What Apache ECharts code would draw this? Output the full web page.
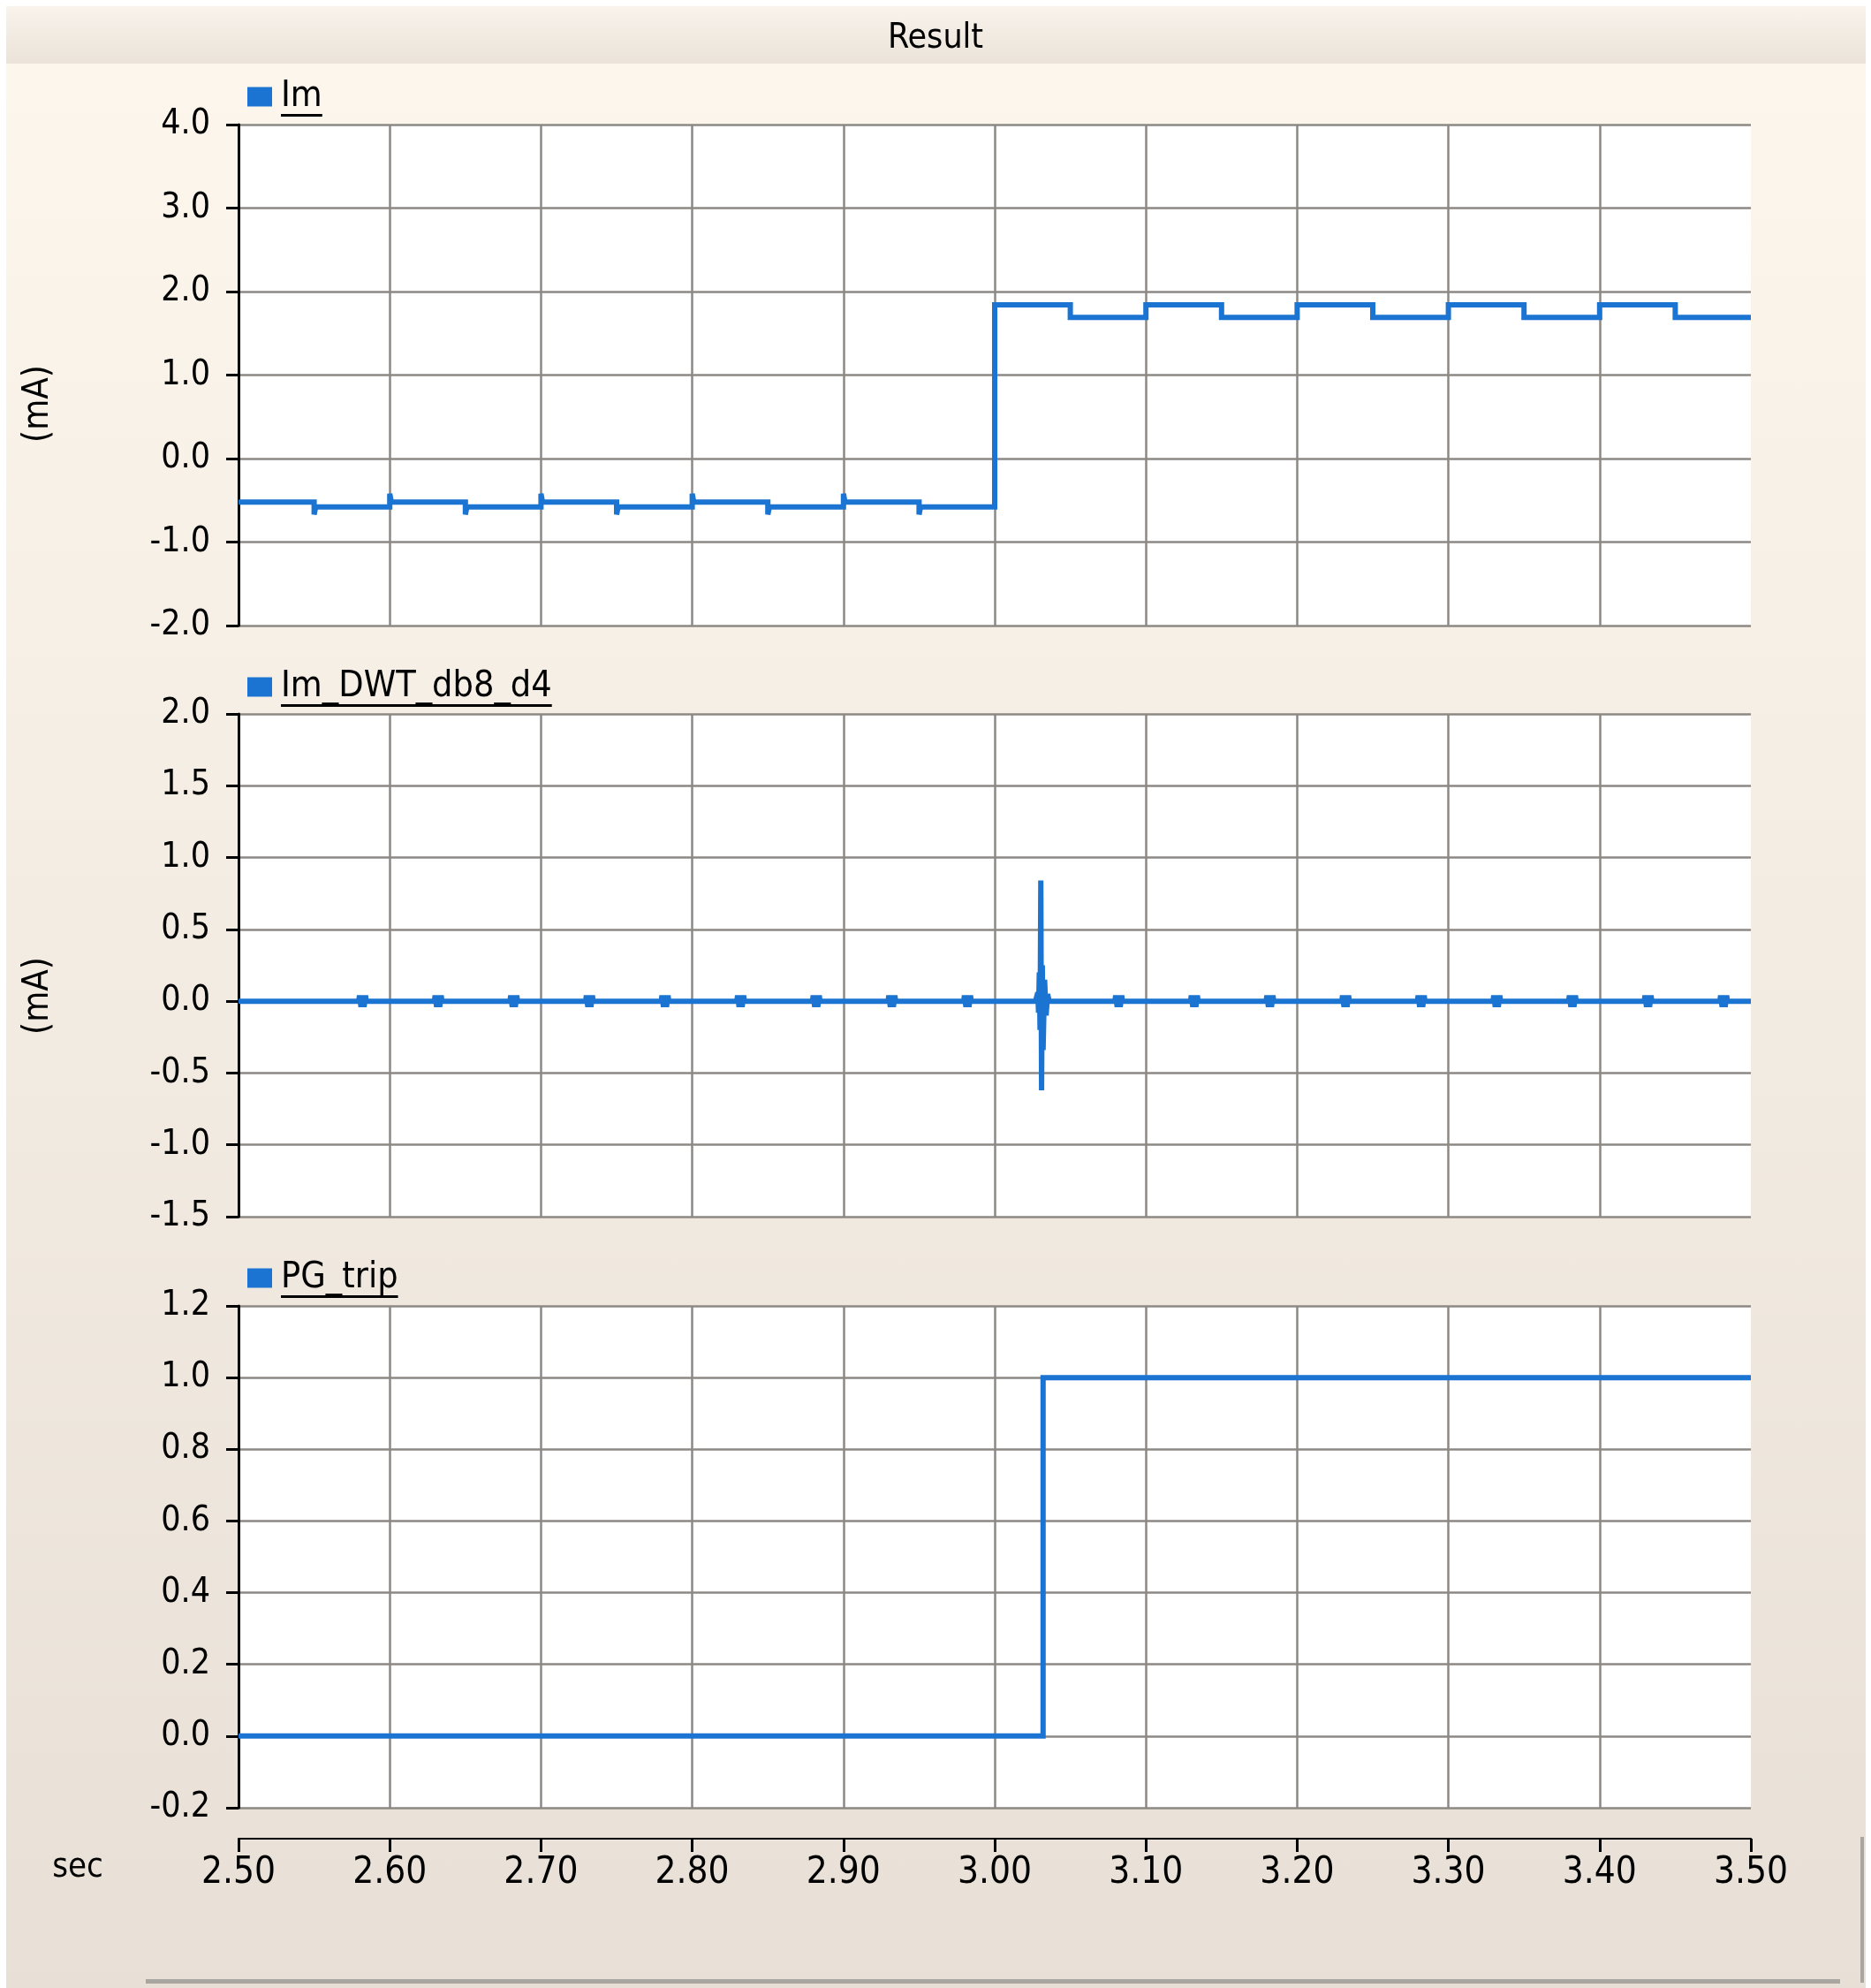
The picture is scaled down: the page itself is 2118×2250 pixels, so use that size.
<!DOCTYPE html>
<html>
<head>
<meta charset="utf-8">
<script src="https://cdn.jsdelivr.net/npm/echarts@6/dist/echarts.min.js"></script>
<style>
html,body{margin:0;padding:0;background:#fff;}
#wrap{position:relative;width:2118px;height:2250px;overflow:hidden;background:#fff;}
#titlebar{position:absolute;left:7px;top:7px;width:2105px;height:65px;background:linear-gradient(#f9f3ec,#ebe3d9);}
#panel{position:absolute;left:7px;top:72px;width:2105px;height:2178px;background:linear-gradient(#fdf6ed,#e8e0d6);}
#hscroll{position:absolute;left:165px;top:2240px;width:1918px;height:5px;background:#a9a5a1;}
#vscroll{position:absolute;left:2106px;top:2079px;width:4px;height:165px;background:#a9a5a1;}
#chart{position:absolute;left:0;top:0;width:2118px;height:2250px;}
</style>
</head>
<body>
<div id="wrap">
<div id="titlebar"></div>
<div id="panel"></div>
<div id="hscroll"></div>
<div id="vscroll"></div>
<div id="chart"></div>
</div>
<script>
// ---- data ----
const seriesNames = ['Im', 'Im_DWT_db8_d4', 'PG_trip'];
const xTickValues = [2.50, 2.60, 2.70, 2.80, 2.90, 3.00, 3.10, 3.20, 3.30, 3.40, 3.50];

// Im (mA): step waveform, [time, value]
const imPoints = [
  [2.50,-0.52],[2.55,-0.52],[2.55,-0.67],[2.551,-0.58],[2.60,-0.58],[2.60,-0.42],[2.601,-0.52],
  [2.65,-0.52],[2.65,-0.67],[2.651,-0.58],[2.70,-0.58],[2.70,-0.42],[2.701,-0.52],
  [2.75,-0.52],[2.75,-0.67],[2.751,-0.58],[2.80,-0.58],[2.80,-0.42],[2.801,-0.52],
  [2.85,-0.52],[2.85,-0.67],[2.851,-0.58],[2.90,-0.58],[2.90,-0.42],[2.901,-0.52],
  [2.95,-0.52],[2.95,-0.67],[2.951,-0.58],[3.00,-0.58],
  [3.00,1.84],[3.05,1.84],[3.05,1.69],[3.10,1.69],[3.10,1.84],[3.15,1.84],[3.15,1.69],
  [3.20,1.69],[3.20,1.84],[3.25,1.84],[3.25,1.69],[3.30,1.69],[3.30,1.84],[3.35,1.84],
  [3.35,1.69],[3.40,1.69],[3.40,1.84],[3.45,1.84],[3.45,1.69],[3.50,1.69]
];

// Im_DWT_db8_d4 (mA): small blips along zero and a burst near 3.031 s
const dwtBlipTimes = [2.582,2.632,2.682,2.732,2.782,2.832,2.882,2.932,2.982,
                      3.082,3.132,3.182,3.232,3.282,3.332,3.382,3.432,3.482];
const dwtBlipShape = [[-0.0025,0],[-0.002,0.04],[-0.001,-0.04],[0,0.04],[0.001,-0.04],[0.002,0.04],[0.0025,0]]; // [dt, value]
const dwtBurst = [
  [3.027,0],[3.0285,0.06],[3.029,-0.08],[3.0295,0.20],[3.030,-0.20],[3.0305,0.84],
  [3.031,-0.62],[3.0315,0.25],[3.032,-0.34],[3.033,0.15],[3.034,-0.10],[3.035,0.05],[3.036,0]
];

// PG_trip: step from 0 to 1
const tripPoints = [[2.50,0],[3.032,0],[3.032,1.0],[3.50,1.0]];

// y axis ranges per panel [min, max, interval]
const yRanges = [[-2.0, 4.0, 1.0], [-1.5, 2.0, 0.5], [-0.2, 1.2, 0.2]];

// ---- build ----
function buildDwt() {
  const pts = [[2.50, 0]];
  const events = [];
  dwtBlipTimes.forEach(t => events.push({t: t, pts: dwtBlipShape.map(s => [t + s[0], s[1]])}));
  events.push({t: dwtBurst[0][0], pts: dwtBurst});
  events.sort((a, b) => a.t - b.t);
  events.forEach(e => e.pts.forEach(p => pts.push(p)));
  pts.push([3.50, 0]);
  return pts;
}

const F = '"DejaVu Sans Condensed", "DejaVu Sans", sans-serif';
const BLUE = '#1b74d2';
const GRIDC = '#8c8884';
const grids = [
  {left: 270, top: 141, width: 1712, height: 567},
  {left: 270, top: 808, width: 1712, height: 569},
  {left: 270, top: 1478, width: 1712, height: 568}
];
const legendTops = [89, 757, 1426];
const LEG_FS = 41;
const unitLabelsY = [457, 1127];

const chart = echarts.init(document.getElementById('chart'), null, {renderer: 'canvas'});

const xAxes = grids.map((g, i) => ({
  type: 'value', gridIndex: i, min: 2.5, max: 3.5, interval: 0.1,
  position: 'bottom',
  offset: i === 2 ? 35 : 0,
  axisLine: {show: i === 2, onZero: false, lineStyle: {color: '#000', width: 2}},
  axisTick: {show: i === 2, length: 15, lineStyle: {color: '#000', width: 3}},
  axisLabel: {show: i === 2, margin: 18, fontFamily: F, fontSize: 42, color: '#000',
    formatter: v => v.toFixed(2)},
  splitLine: {show: true, showMinLine: false, showMaxLine: false, lineStyle: {color: GRIDC, width: 2.5}}
}));

const yAxes = yRanges.map((r, i) => ({
  type: 'value', gridIndex: i, min: r[0], max: r[1], interval: r[2],
  axisLine: {show: true, onZero: false, lineStyle: {color: '#000', width: 3}},
  axisTick: {show: true, length: 14, lineStyle: {color: '#000', width: 3}},
  axisLabel: {margin: 32, fontFamily: F, fontSize: 39, color: '#000',
    formatter: v => v.toFixed(1)},
  splitLine: {show: true, lineStyle: {color: GRIDC, width: 2.5}}
}));

const seriesData = [imPoints, buildDwt(), tripPoints];
const series = seriesData.map((d, i) => ({
  name: seriesNames[i], type: 'line', xAxisIndex: i, yAxisIndex: i,
  data: d, showSymbol: false, symbol: 'none', animation: false,
  lineStyle: {color: BLUE, width: 6, join: 'miter', miterLimit: 2},
  itemStyle: {color: BLUE}
}));

// measure legend text widths for underline
const mctx = document.createElement('canvas').getContext('2d');
mctx.font = LEG_FS + 'px ' + F;

const graphic = [];
seriesNames.forEach((n, i) => {
  const w = mctx.measureText(n).width;
  graphic.push({type: 'rect', shape: {x: 318, y: legendTops[i] + 40, width: w, height: 3},
    style: {fill: '#000'}, z: 100});
});
unitLabelsY.forEach(y => {
  graphic.push({type: 'text', x: 44, y: y, rotation: Math.PI / 2,
    style: {text: '(mA)', font: '40px ' + F, fill: '#000', textAlign: 'center', textVerticalAlign: 'middle'}, z: 100});
});
graphic.push({type: 'text', x: 88, y: 2114,
  style: {text: 'sec', font: '38px ' + F, fill: '#000', textAlign: 'center', textVerticalAlign: 'middle'}, z: 100});

const option = {
  animation: false,
  backgroundColor: 'transparent',
  title: {text: 'Result', left: 'center', top: 25, padding: 0,
    textStyle: {fontFamily: F, fontSize: 39, fontWeight: 'normal', color: '#000', lineHeight: 38}},
  legend: seriesNames.map((n, i) => ({
    data: [n], left: 280, top: legendTops[i], padding: 0, selectedMode: false,
    icon: 'rect', itemWidth: 28, itemHeight: 22,
    textStyle: {fontFamily: F, fontSize: LEG_FS, color: '#000', lineHeight: 40, padding: [0, 0, 0, 5]}
  })),
  grid: grids.map(g => Object.assign({show: true, backgroundColor: '#fff', borderWidth: 0, containLabel: false}, g)),
  xAxis: xAxes,
  yAxis: yAxes,
  series: series,
  graphic: graphic
};
chart.setOption(option);
</script>
</body>
</html>
